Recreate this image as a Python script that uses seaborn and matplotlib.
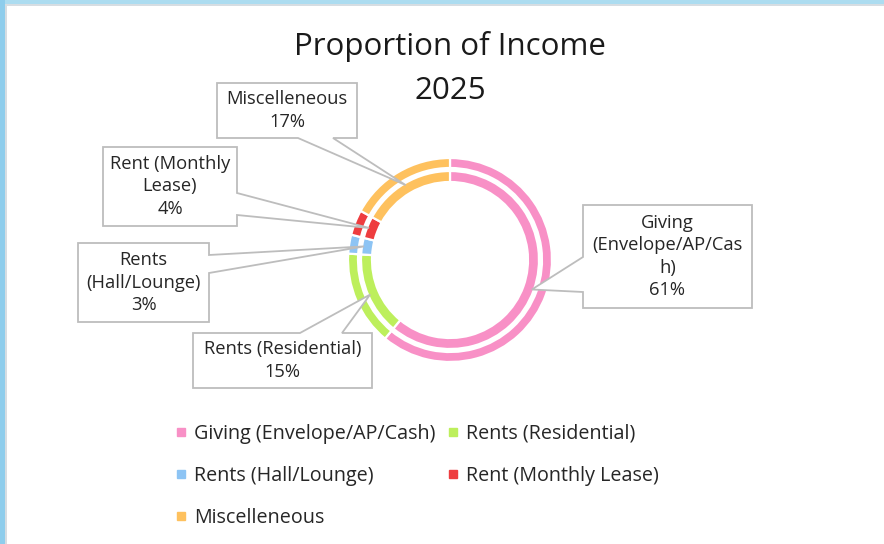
import numpy as np
import matplotlib
matplotlib.use("Agg")
import matplotlib.pyplot as plt
from matplotlib.patches import Polygon, Rectangle
from matplotlib.lines import Line2D
import seaborn as sns

# data
categories = ["Giving (Envelope/AP/Cash)", "Rents (Residential)", "Rents (Hall/Lounge)",
              "Rent (Monthly Lease)", "Miscelleneous"]
shares = [61, 15, 3, 4, 17]
box_labels = ["Giving\n(Envelope/AP/Cas\nh)", "Rents (Residential)", "Rents\n(Hall/Lounge)",
              "Rent (Monthly\nLease)", "Miscelleneous"]
title_lines = ["Proportion of Income", "2025"]
colors = ["#F890C6", "#BDEF5C", "#8DC4F4", "#EE3D3F", "#FEC15E"]

sns.set_theme(style="white")
plt.rcParams["font.family"] = ["Open Sans", "DejaVu Sans"]

W, H = 884, 544
fig = plt.figure(figsize=(W / 100, H / 100), dpi=100)
fig.patch.set_facecolor("white")
ax = fig.add_axes([0, 0, 1, 1])

# donut centre / radii in pixels
cx, cy = 450, H - 260
ring = dict(edgecolor="white", linewidth=1.6)
ax.pie(shares, colors=colors, radius=102, center=(cx, cy), startangle=90,
       counterclock=False, wedgeprops=dict(width=10, **ring))
ax.pie(shares, colors=colors, radius=89, center=(cx, cy), startangle=90,
       counterclock=False, wedgeprops=dict(width=11, **ring))
ax.set_xlim(0, W)
ax.set_ylim(0, H)
ax.set_aspect("equal")
ax.axis("off")

# callout boxes: (x0, x1, y0, y1) in pixels from top, side of the pointer, pointer base
boxes = [
    ((583, 752, 205, 308), "left", (257, 292)),
    ((193, 372, 333, 388), "top", (300, 342)),
    ((78, 209, 243, 322), "right", (255, 273)),
    ((103, 237, 147, 226), "right", (193, 215)),
    ((217, 357, 83, 138), "bottom", (298, 333)),
]

cum = np.cumsum([0] + shares[:-1])
total = sum(shares)
for i, ((x0, x1, y0, y1), side, (b1, b2)) in enumerate(boxes):
    mid = np.deg2rad(90 - (cum[i] + shares[i] / 2) / total * 360)
    tip = (cx + 87 * np.cos(mid), H - (cy + 87 * np.sin(mid)))  # top-based pixels
    tl, tr, br, bl = (x0, y0), (x1, y0), (x1, y1), (x0, y1)
    if side == "top":
        pts = [tl, (b1, y0), tip, (b2, y0), tr, br, bl]
    elif side == "right":
        pts = [tl, tr, (x1, b1), tip, (x1, b2), br, bl]
    elif side == "bottom":
        pts = [tl, tr, br, (b2, y1), tip, (b1, y1), bl]
    else:
        pts = [tl, tr, br, bl, (x0, b2), tip, (x0, b1)]
    ax.add_patch(Polygon([(px, H - py) for px, py in pts], closed=True,
                         facecolor="white", edgecolor="#BDBDBD", linewidth=1.3, zorder=5))
    ax.text((x0 + x1) / 2, H - (y0 + y1) / 2, f"{box_labels[i]}\n{shares[i]}%",
            ha="center", va="center", fontsize=13.2, color="#262626",
            linespacing=1.3, zorder=6)

# title, one text per line
for line, ty in zip(title_lines, [47, 91]):
    ax.text(450, H - ty, line, ha="center", va="center", fontsize=22.5, color="#1a1a1a")

# legend laid out row-wise like the original
order = [0, 2, 4, 1, 3]
handles = [Line2D([], [], marker="s", linestyle="none", markersize=6,
                  color=colors[k], label=categories[k]) for k in order]
ax.legend(handles=handles, ncol=2, frameon=False, loc="upper left",
          bbox_to_anchor=(176 / W, 1 - 424 / H), borderaxespad=0, borderpad=0,
          fontsize=14.2, handlelength=0.55, handletextpad=0.35, columnspacing=0.65,
          labelspacing=1.12, labelcolor="#262626")

# light blue frame strips on top and left edge
fig.patches.append(Rectangle((0, 1 - 4 / H), 1, 4 / H, transform=fig.transFigure,
                             facecolor="#ACDCF0", edgecolor="none"))
fig.patches.append(Rectangle((0, 1 - 6 / H), 1, 2 / H, transform=fig.transFigure,
                             facecolor="#D6DDE2", edgecolor="none"))
fig.patches.append(Rectangle((0, 0), 5 / W, 1, transform=fig.transFigure,
                             facecolor="#8ECDEC", edgecolor="none"))
fig.patches.append(Rectangle((5 / W, 0), 2 / W, 1 - 4 / H, transform=fig.transFigure,
                             facecolor="#D6DDE2", edgecolor="none"))

fig.savefig("out.png", dpi=100)
